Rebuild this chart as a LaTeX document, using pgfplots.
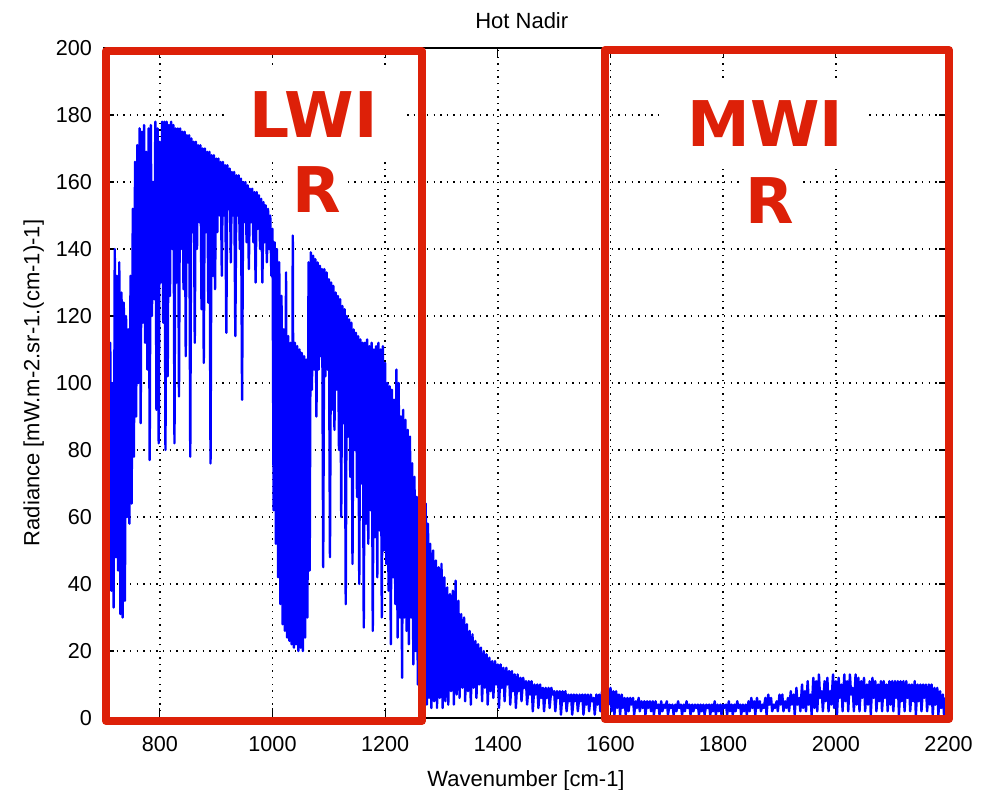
\documentclass[border=0pt]{standalone}
\usepackage{fontspec}
\setmainfont{Liberation Sans}
\newfontfamily\boxfont[BoldFont={DejaVu Sans Bold}]{DejaVu Sans}
\usepackage{pgfplots}
\pgfplotsset{compat=1.18}
\definecolor{specblue}{RGB}{0,0,255}
\definecolor{boxred}{RGB}{221,32,8}

\begin{document}
\begin{tikzpicture}
\path[use as bounding box] (-51.75pt,-36pt) rectangle (442.25pt,359pt);
\begin{axis}[
  at={(0pt,0pt)}, anchor=south west,
  scale only axis, width=422.5pt, height=335pt,
  xmin=700, xmax=2200, ymin=0, ymax=200,
  xtick={800,1000,...,2200}, ytick={0,20,...,200},
  grid=major,
  grid style={black, line width=0.7pt, dash pattern=on 0.7pt off 2.6pt},
  tick align=inside, major tick length=5pt,
  every tick/.style={black, line width=0.6pt},
  axis line style={black, line width=0.75pt},
  clip=false,
  font=\fontsize{11}{13}\selectfont,
  ticklabel style={font=\fontsize{10.8}{13}\selectfont},
  /pgf/number format/assume math mode=true,
  /pgf/number format/1000 sep={},
  scaled ticks=false,
  xticklabel style={yshift=-5.75pt},
  yticklabel style={xshift=-2.3pt},
  title={Hot Nadir},
  title style={at={(axis description cs:0.495,1)}, anchor=base, yshift=3.5pt},
  xlabel={Wavenumber [cm-1]},
  xlabel style={at={(axis description cs:0.5,0)}, anchor=base, yshift=-34pt},
  ylabel={Radiance [mW.m-2.sr-1.(cm-1)-1]},
  ylabel style={at={(axis description cs:-0.076,0.5)}, anchor=base},
]
% spectrum (alternating envelope / dip values)
\addplot[specblue, line width=1.2pt, line join=round, mark=none] coordinates {
(700,108)(702,45)(704,110)(706,36)(708,106)(710,42)(712,112)(714,38)(716,100)(718,33)
(720,140)(722,48)(724,132)(726,44)(728,136)(730,31)(732,127)(734,30)(736,124)(738,35)
(740,120)(742,60)(744,116)(746,58)(748,132)(750,64)(752,152)(754,78)(756,166)(758,90)
(760,171)(762,100)(764,176)(766,88)(768,175)(770,118)(772,177)(774,112)(776,169)(778,104)
(780,176)(782,77)(784,177)(786,120)(788,160)(790,125)(792,178)(794,92)(796,176)(798,82)
(800,172)(802,130)(804,178)(806,118)(808,178)(810,80)(812,178)(814,102)(816,177)(818,126)
(820,178)(822,140)(824,177)(826,82)(828,176)(830,130)(832,176)(834,96)(836,176)(838,140)
(840,175)(842,128)(844,175)(846,108)(848,174)(850,136)(852,174)(854,78)(856,173)(858,145)
(860,172)(862,112)(864,172)(866,140)(868,171)(870,148)(872,171)(874,122)(876,170)(878,106)
(880,170)(882,145)(884,169)(886,124)(888,169)(890,76)(892,168)(894,132)(896,168)(898,128)
(900,167)(902,145)(904,167)(906,150)(908,166)(910,132)(912,166)(914,150)(916,165)(918,115)
(920,165)(922,152)(924,164)(926,136)(928,163)(930,150)(932,163)(934,114)(936,162)(938,150)
(940,162)(942,140)(944,161)(946,95)(948,160)(950,148)(952,160)(954,142)(956,159)(958,134)
(960,158)(962,148)(964,158)(966,142)(968,157)(970,130)(972,157)(974,146)(976,156)(978,140)
(980,155)(982,130)(984,154)(986,142)(988,153)(990,136)(992,152)(994,140)(996,150)(998,132)
(1000,146)(1002,62)(1004,142)(1006,52)(1008,140)(1010,42)(1012,136)(1014,34)(1016,126)(1018,28)
(1020,116)(1022,26)(1024,133)(1026,24)(1028,114)(1030,23)(1032,112)(1034,22)(1036,144)(1038,21)
(1040,112)(1042,22)(1044,111)(1046,20)(1048,110)(1050,21)(1052,109)(1054,20)(1056,108)(1058,24)
(1060,107)(1062,30)(1064,136)(1066,44)(1068,139)(1070,98)(1072,138)(1074,104)(1076,137)(1078,90)
(1080,136)(1082,104)(1084,135)(1086,108)(1088,134)(1090,45)(1092,134)(1094,102)(1096,133)(1098,104)
(1100,131)(1102,48)(1104,130)(1106,92)(1108,129)(1110,86)(1112,127)(1114,98)(1116,126)(1118,80)
(1120,125)(1122,60)(1124,123)(1126,88)(1128,122)(1130,34)(1132,120)(1134,84)(1136,119)(1138,72)
(1140,118)(1142,46)(1144,116)(1146,80)(1148,115)(1150,66)(1152,114)(1154,40)(1156,113)(1158,70)
(1160,112)(1162,27)(1164,112)(1166,58)(1168,113)(1170,52)(1172,111)(1174,62)(1176,112)(1178,26)
(1180,110)(1182,54)(1184,111)(1186,42)(1188,112)(1190,56)(1192,110)(1194,30)(1196,111)(1198,50)
(1200,106)(1202,46)(1204,100)(1206,38)(1208,99)(1210,22)(1212,98)(1214,42)(1216,95)(1218,34)
(1220,104)(1222,24)(1224,100)(1226,30)(1228,90)(1230,12)(1232,92)(1234,30)(1236,89)(1238,26)
(1240,86)(1242,22)(1244,84)(1246,30)(1248,76)(1250,16)(1252,72)(1254,20)(1256,66)(1258,10)
(1260,62)(1262,14)(1264,56)(1266,5)(1268,52)(1270,8)(1272,64)(1274,4)(1276,58)(1278,6)
(1280,52)(1282,3)(1285,50)(1287,5)(1290,47)(1292,3)(1295,45)(1297,6)(1300,46)(1302,3)
(1305,42)(1307,5)(1310,39)(1312,4)(1315,37)(1317,8)(1320,38)(1322,4)(1325,41)(1327,7)
(1330,35)(1332,6)(1335,31)(1337,9)(1340,30)(1342,5)(1345,28)(1347,8)(1350,26)(1352,4)
(1355,25)(1357,9)(1360,23)(1362,6)(1365,22)(1367,10)(1370,21)(1372,5)(1375,20)(1377,9)
(1380,19)(1382,4)(1385,18)(1387,8)(1390,17)(1392,6)(1395,17)(1397,10)(1400,16)(1402,3)
(1405,16)(1407,9)(1410,15)(1412,5)(1415,15)(1417,10)(1420,14)(1422,4)(1425,14)(1427,8)
(1430,13)(1432,3)(1435,13)(1437,8)(1440,12)(1442,5)(1445,12)(1447,9)(1450,11)(1452,4)
(1455,11)(1457,7)(1460,11)(1462,2)(1465,10)(1467,7)(1470,10)(1472,3)(1475,10)(1477,6)
(1480,9)(1482,2)(1485,9)(1487,6)(1490,9)(1492,3)(1495,9)(1497,7)(1500,8)(1502,2)
(1505,8)(1507,6)(1510,8)(1512,1)(1515,8)(1517,5)(1520,8)(1522,2)(1525,7)(1527,5)
(1530,7)(1532,1)(1535,7)(1537,5)(1540,7)(1542,2)(1545,7)(1547,5)(1550,7)(1552,1)
(1555,7)(1557,4)(1560,7)(1562,2)(1565,7)(1567,5)(1570,6)(1572,1)(1575,7)(1577,4)
(1580,7)(1582,2)(1585,8)(1587,5)(1590,7)(1592,1)(1595,8)(1597,4)
(1600,9)(1602,2)(1605,8)(1607,1)(1610,8)(1612,3)(1615,7)(1617,1)(1620,7)(1622,3)
(1625,6)(1627,1)(1630,6)(1632,2)(1635,6)(1637,4)(1640,6)(1642,1)(1645,5)(1647,3)
(1650,6)(1652,2)(1655,5)(1657,3)(1660,5)(1662,1)(1665,5)(1667,3)(1670,5)(1672,2)
(1675,5)(1677,1)(1680,5)(1682,3)(1685,4)(1687,1)(1690,5)(1692,2)(1695,4)(1697,3)
(1700,5)(1702,1)(1705,4)(1707,3)(1710,4)(1712,1)(1715,4)(1717,2)(1720,5)(1722,3)
(1725,4)(1727,1)(1730,4)(1732,2)(1735,5)(1737,3)(1740,4)(1742,1)(1745,4)(1747,2)
(1750,4)(1752,3)(1755,4)(1757,1)(1760,4)(1762,2)(1765,4)(1767,1)(1770,4)(1772,3)
(1775,4)(1777,1)(1780,4)(1782,2)(1785,5)(1787,1)(1790,4)(1792,2)(1795,4)(1797,1)
(1800,4)(1802,3)(1805,4)(1807,1)(1810,5)(1812,2)(1815,4)(1817,1)(1820,4)(1822,2)
(1825,5)(1827,3)(1830,4)(1832,1)(1835,4)(1837,2)(1840,4)(1842,1)(1845,5)(1847,2)
(1850,6)(1852,3)(1855,5)(1857,1)(1860,6)(1862,3)(1865,5)(1867,2)(1870,4)(1872,3)
(1875,6)(1877,1)(1880,7)(1882,4)(1885,6)(1887,2)(1890,4)(1892,3)(1895,5)(1897,2)
(1900,7)(1902,4)(1905,7)(1907,2)(1910,5)(1912,3)(1915,6)(1917,2)(1920,8)(1922,4)
(1925,7)(1927,1)(1930,9)(1932,4)(1935,6)(1937,2)(1940,10)(1942,3)(1945,8)(1947,2)
(1950,11)(1952,4)(1955,7)(1957,1)(1960,12)(1962,3)(1965,11)(1967,2)(1970,13)(1972,6)
(1975,8)(1977,2)(1980,11)(1982,5)(1985,12)(1987,2)(1990,8)(1992,4)(1995,13)(1997,3)
(2000,11)(2002,1)(2005,12)(2007,6)(2010,10)(2012,2)(2015,13)(2017,5)(2020,11)(2022,2)
(2025,13)(2027,7)(2030,9)(2032,2)(2035,13)(2037,4)(2040,12)(2042,2)(2045,11)(2047,6)
(2050,12)(2052,2)(2055,10)(2057,4)(2060,11)(2062,1)(2065,12)(2067,6)(2070,11)(2072,2)
(2075,10)(2077,5)(2080,11)(2082,2)(2085,11)(2087,6)(2090,10)(2092,2)(2095,11)(2097,4)
(2100,11)(2102,2)(2105,11)(2107,6)(2110,11)(2112,1)(2115,11)(2117,5)(2120,11)(2122,2)
(2125,11)(2127,6)(2130,10)(2132,2)(2135,10)(2137,5)(2140,11)(2142,1)(2145,10)(2147,5)
(2150,10)(2152,2)(2155,10)(2157,6)(2160,10)(2162,2)(2165,10)(2167,4)(2170,10)(2172,1)
(2175,9)(2177,4)(2180,9)(2182,1)(2185,8)(2187,3)(2190,7)(2192,1)(2195,6)(2197,2)(2200,5)
};
% band labels
\node[fill=white, inner xsep=12pt, inner ysep=11pt, text=boxred,
  font=\boxfont\bfseries\fontsize{31.5}{36}\selectfont] at (axis cs:1073,180) {LWI};
\node[fill=white, inner sep=3pt, text=boxred,
  font=\boxfont\bfseries\fontsize{31.5}{36}\selectfont] at (axis cs:1078,157.6) {R};
\node[fill=white, inner xsep=12pt, inner ysep=11pt, text=boxred,
  font=\boxfont\bfseries\fontsize{31.5}{36}\selectfont] at (axis cs:1875,177.5) {MWI};
\node[fill=white, inner sep=3pt, text=boxred,
  font=\boxfont\bfseries\fontsize{31.5}{36}\selectfont] at (axis cs:1882,154.6) {R};
% band frames
\addplot[boxred, line width=4pt, line join=round, mark=none] coordinates
  {(704.4,-0.9)(704.4,199.1)(1265,199.1)(1265,-0.9)(704.4,-0.9)(704.4,199.1)};
\addplot[boxred, line width=4pt, line join=round, mark=none] coordinates
  {(1590,-0.3)(1590,199.4)(2201,199.4)(2201,-0.3)(1590,-0.3)(1590,199.4)};
\end{axis}
\end{tikzpicture}
\end{document}
